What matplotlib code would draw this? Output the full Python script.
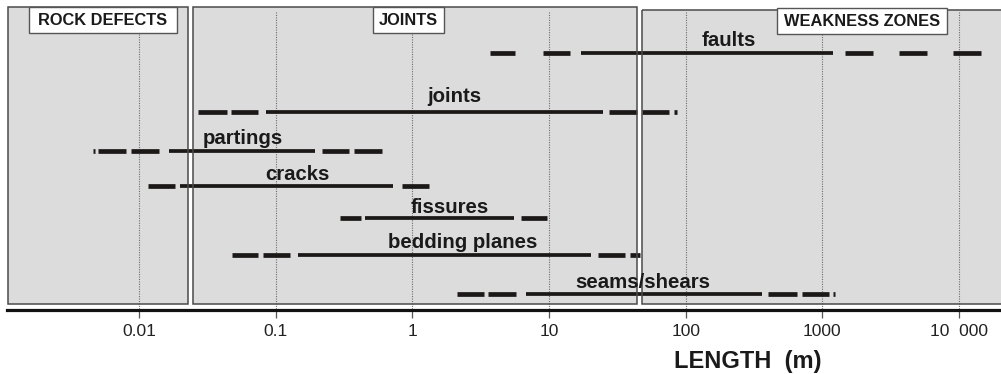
import matplotlib
matplotlib.use("Agg")
import matplotlib.pyplot as plt
import matplotlib.transforms as mtransforms
from matplotlib.patches import Rectangle
from matplotlib.ticker import NullLocator

# ---------------------------------------------------------------------------
# Length ranges (m) of rock discontinuities
# ---------------------------------------------------------------------------
categories = ["faults", "joints", "partings", "cracks",
              "fissures", "bedding planes", "seams/shears"]

# typical (solid) range of each discontinuity type
solid_ranges = [
    (17.2, 1197),
    (0.085, 24.9),
    (0.0166, 0.194),
    (0.0200, 0.722),
    (0.451, 5.55),
    (0.146, 20.3),
    (6.79, 362),
]

# occasional (dashed) extensions on either side of the typical range
dashed_pieces = [
    [(3.70, 5.64), (9.04, 14.25), (1466, 2349), (3640, 5834), (9045, 14500)],
    [(0.0270, 0.0441), (0.0471, 0.0743), (27.5, 44.0), (48.2, 75.5),
     (82.2, 85.8)],
    [(0.00461, 0.00473), (0.00502, 0.00804), (0.00875, 0.0140),
     (0.218, 0.344), (0.375, 0.600)],
    [(0.0116, 0.0184), (0.841, 1.325)],
    [(0.296, 0.421), (6.24, 9.67)],
    [(0.0480, 0.0743), (0.0809, 0.127), (22.9, 36.0), (39.2, 46.4)],
    [(2.12, 3.35), (3.58, 5.74), (400, 653), (710, 1120), (1207, 1238)],
]

# classes of defects along the length axis (m)
class_names = ["ROCK DEFECTS", "JOINTS", "WEAKNESS ZONES"]
class_bounds = [(0.0011, 0.02285), (0.02485, 44.1), (47.96, 40000.0)]

tick_values = [0.01, 0.1, 1, 10, 100, 1000, 10000]
tick_labels = ["0.01", "0.1", "1", "10", "100", "1000", "10  000"]

# ---------------------------------------------------------------------------
# Layout (vertical positions in pixels from the top of the figure)
# ---------------------------------------------------------------------------
row_y = [53, 111.5, 151, 186, 218, 255, 294]
label_x = [206, 2.04, 0.0572, 0.1445, 1.887, 2.33, 48.4]
label_base = [45.5, 101.5, 144, 180, 213, 248, 288.5]
class_tops = [7, 7, 9.5]
class_bottom = 304
class_boxes = [(29, 7, 148, 26), (373, 7, 71, 26), (777, 8, 170, 26)]

W, H = 1001, 374
AXIS_Y = 310

BAR = "#1c1818"
TEXT = "#1a1a1a"
PANEL = "#dcdcdc"
EDGE = "#4a4a4a"

plt.rcParams["font.family"] = ["Liberation Sans", "DejaVu Sans"]

fig = plt.figure(figsize=(W / 100, H / 100), dpi=100)
fig.patch.set_facecolor("white")
ax = fig.add_axes([7 / W, (H - AXIS_Y) / H, (W - 7) / W, AXIS_Y / H])
ax.set_xscale("log")
ax.set_xlim(10 ** -2.9656, 10 ** 4.3075)
ax.set_ylim(AXIS_Y, 0)
ax.patch.set_alpha(0)

# pixel coordinates measured from the top-left corner of the figure
pix = mtransforms.Affine2D().scale(1 / W, -1 / H).translate(0, 1) + fig.transFigure

# grey class panels
for (x0, x1), top in zip(class_bounds, class_tops):
    ax.add_patch(Rectangle((x0, top), x1 - x0, class_bottom - top,
                           facecolor=PANEL, edgecolor="none", zorder=0))

# dotted decade lines
ax.vlines(tick_values, 12, AXIS_Y, colors="#6e6e6e",
          linestyles=(0, (1.0, 1.2)), linewidth=0.8, zorder=1)

# range bars
for y, (lo, hi), pieces in zip(row_y, solid_ranges, dashed_pieces):
    ax.hlines(y, lo, hi, colors=BAR, linewidth=2.7, zorder=2,
              capstyle="butt")
    for a, b in pieces:
        ax.hlines(y, a, b, colors=BAR, linewidth=3.4, zorder=2,
                  capstyle="butt")

# panel outlines
for (x0, x1), top in zip(class_bounds, class_tops):
    ax.add_patch(Rectangle((x0, top), x1 - x0, class_bottom - top,
                           facecolor="none", edgecolor=EDGE, linewidth=1.1,
                           zorder=3.5))

# class title boxes
for name, (bx, by, bw, bh) in zip(class_names, class_boxes):
    ax.add_patch(Rectangle((bx, by), bw, bh, transform=pix, facecolor="white",
                           edgecolor="#555555", linewidth=1.0, zorder=4,
                           clip_on=False))
    ax.text(bx + bw / 2, by + bh / 2 + 0.5, name, transform=pix, ha="center",
            va="center", fontsize=11.8, fontweight="bold", color=TEXT,
            zorder=5)

# discontinuity names
for name, lx, base in zip(categories, label_x, label_base):
    ax.text(lx, base, name, ha="center", va="baseline", fontsize=14.7,
            fontweight="bold", color=TEXT, zorder=5)

# length axis
for side in ("top", "left", "right"):
    ax.spines[side].set_visible(False)
ax.spines["bottom"].set_linewidth(2.3)
ax.spines["bottom"].set_color("#111111")
ax.set_yticks([])
ax.set_xticks(tick_values)
ax.set_xticklabels(tick_labels)
ax.xaxis.set_minor_locator(NullLocator())
ax.tick_params(axis="x", length=5.4, width=0.9, color="#555555", pad=4.5,
               labelsize=12.5, labelcolor="#222222")

fig.text(747.5 / W, (H - 368) / H, "LENGTH  (m)", ha="center",
         va="baseline", fontsize=17, fontweight="bold", color=TEXT)

fig.savefig("out.png", dpi=100, facecolor="white")
